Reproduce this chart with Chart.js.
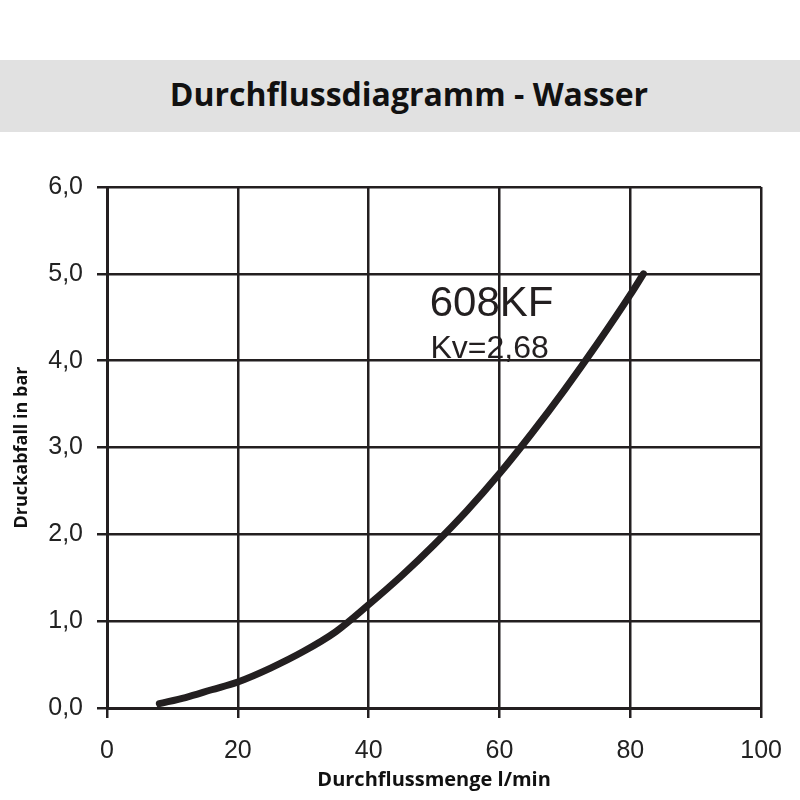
<!DOCTYPE html>
<html>
<head>
<meta charset="utf-8">
<script src="https://cdn.jsdelivr.net/npm/chart.js@4"></script>
<style>
  html, body { margin: 0; padding: 0; background: #fff; }
  #wrap { position: relative; width: 800px; height: 800px; }
  #band {
    position: absolute; left: 0; top: 60px; width: 782px; height: 72px; padding-left: 18px;
    background: #e1e1e1; font-family: "Open Sans", sans-serif; font-weight: 700;
    font-size: 32px; color: #111; text-align: center; line-height: 68px;
  }
  #chart { position: absolute; left: 0; top: 0; }
</style>
</head>
<body>
<div id="wrap">
  <div id="band">Durchflussdiagramm - Wasser</div>
  <canvas id="chart" width="800" height="800"></canvas>
</div>
<script>
// flow (l/min) vs pressure drop (bar)
const flowValues = [8, 12, 16, 20, 25, 30, 35, 40, 45, 50, 55, 60, 65, 70, 75, 80, 82];
const dropValues = [0.05, 0.12, 0.21, 0.30, 0.46, 0.65, 0.88, 1.19, 1.52, 1.88, 2.27, 2.70, 3.17, 3.67, 4.20, 4.76, 5.0];
const seriesName = '608KF';
const seriesNote = 'Kv=2,68';
const xTitle = 'Durchflussmenge l/min';
const yTitle = 'Druckabfall in bar';

const ink = '#231f20';

// label inside the plot, placed via the scales
const noteLabel = {
      id: 'noteLabel',
      afterDatasetsDraw(chart) {
            const { ctx, scales } = chart;
            ctx.save();
            ctx.fillStyle = ink;
            ctx.textAlign = 'center';
            ctx.textBaseline = 'alphabetic';
            ctx.font = '42px "Liberation Sans", Arial, sans-serif';
            ctx.fillText(seriesName, scales.x.getPixelForValue(58.8), scales.y.getPixelForValue(4.51));
            ctx.font = '32px "Liberation Sans", Arial, sans-serif';
            ctx.fillText(seriesNote, scales.x.getPixelForValue(58.5), scales.y.getPixelForValue(4.03));
            ctx.restore();
      }
};

const ctx = document.getElementById('chart').getContext('2d');
new Chart(ctx, {
      type: 'line',
      data: {
            datasets: [{
                  label: seriesName,
                  data: flowValues.map((x, i) => ({ x: x, y: dropValues[i] })),
                  borderColor: ink,
                  borderWidth: 7,
                  borderCapStyle: 'round',
                  borderJoinStyle: 'round',
                  cubicInterpolationMode: 'monotone',
                  pointRadius: 0,
                  fill: false
            }]
      },
      options: {
            responsive: false,
            animation: false,
            layout: { padding: { top: 187, right: 38, left: 0, bottom: 0 } },
            scales: {
                  x: {
                        type: 'linear',
                        min: 0, max: 100,
                        afterFit: (s) => { s.height = 92; },
                        ticks: {
                              stepSize: 20, padding: 18, color: '#222',
                              font: { family: '"Liberation Sans", Arial, sans-serif', size: 25 }
                        },
                        grid: { color: ink, lineWidth: 2.5, tickLength: 10 },
                        border: { color: ink, width: 3 },
                        title: {
                              display: true, text: xTitle, color: '#111',
                              font: { family: '"Open Sans", sans-serif', weight: 'bold', size: 20 },
                              padding: { top: 0, bottom: 8 }
                        }
                  },
                  y: {
                        min: 0, max: 6,
                        afterFit: (s) => { s.width = 107; },
                        ticks: {
                              stepSize: 1, padding: 14, color: '#222',
                              font: { family: '"Liberation Sans", Arial, sans-serif', size: 25 },
                              callback: (v) => v.toFixed(1).replace('.', ',')
                        },
                        grid: { color: ink, lineWidth: 2.5, tickLength: 10 },
                        border: { color: ink, width: 3 },
                        title: {
                              display: true, text: yTitle, color: '#111',
                              font: { family: '"Open Sans", sans-serif', weight: 'bold', size: 18 },
                              padding: { top: 11, bottom: 0 }
                        }
                  }
            },
            plugins: {
                  legend: { display: false },
                  tooltip: { enabled: false }
            }
      },
      plugins: [noteLabel]
});
</script>
</body>
</html>
